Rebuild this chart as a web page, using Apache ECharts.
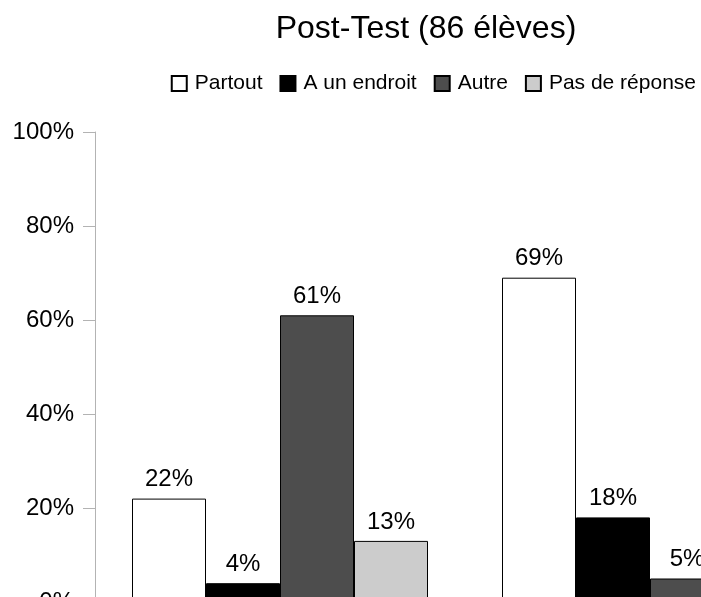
<!DOCTYPE html>
<html>
<head>
<meta charset="utf-8">
<script src="https://cdn.jsdelivr.net/npm/echarts@6/dist/echarts.min.js"></script>
<style>
html,body{margin:0;padding:0;background:#fff;}
#chart{width:701px;height:597px;}
</style>
</head>
<body>
<div id="chart"></div>
<script>
const categories = ['Question 1', 'Question 2'];
const seriesNames = ['Partout', 'A un endroit', 'Autre', 'Pas de réponse'];
const partout = [22, 69];
const unEndroit = [4, 18];
const autre = [61, 5];
const pasDeReponse = [13, 8];
const yTicks = [0, 20, 40, 60, 80, 100];
const colors = ['#ffffff', '#000000', '#4d4d4d', '#cccccc'];

const values = [partout, unEndroit, autre, pasDeReponse];
const FONT = 'Liberation Sans, Arial, sans-serif';

const chart = echarts.init(document.getElementById('chart'), null, {renderer: 'canvas'});
chart.setOption({
  animation: false,
  backgroundColor: '#ffffff',
  title: {
    text: 'Post-Test (86 élèves)',
    left: 421, textAlign: 'center', top: 8,
    textStyle: {fontFamily: FONT, fontSize: 32, fontWeight: 'normal', color: '#000'}
  },
  legend: {
    right: 0, top: 68,
    itemWidth: 15, itemHeight: 15, itemGap: 17,
    icon: 'rect',
    data: seriesNames,
    textStyle: {fontFamily: FONT, fontSize: 21, color: '#000', padding: [0, 0, 0, 3]}
  },
  grid: {left: 95, top: 132, width: 740, height: 470, containLabel: false, outerBoundsMode: 'none'},
  xAxis: {
    type: 'category', data: categories,
    axisLine: {show: false}, axisTick: {show: false}, axisLabel: {show: false}
  },
  yAxis: {
    type: 'value', min: yTicks[0], max: yTicks[yTicks.length - 1], interval: 20,
    axisLine: {show: true, lineStyle: {color: '#b3b3b3', width: 1}},
    axisTick: {show: true, inside: false, length: 12, lineStyle: {color: '#b3b3b3'}},
    axisLabel: {formatter: '{value}%', fontFamily: FONT, fontSize: 24, color: '#000', margin: 21},
    splitLine: {show: false}
  },
  series: seriesNames.map((name, i) => ({
    name: name, type: 'bar', data: values[i],
    barGap: '0%', barCategoryGap: '20%',
    itemStyle: {color: colors[i], borderColor: '#000', borderWidth: 1},
    label: {show: true, position: 'top', distance: 7, formatter: '{c}%',
      fontFamily: FONT, fontSize: 24, color: '#000'}
  }))
});
</script>
</body>
</html>
